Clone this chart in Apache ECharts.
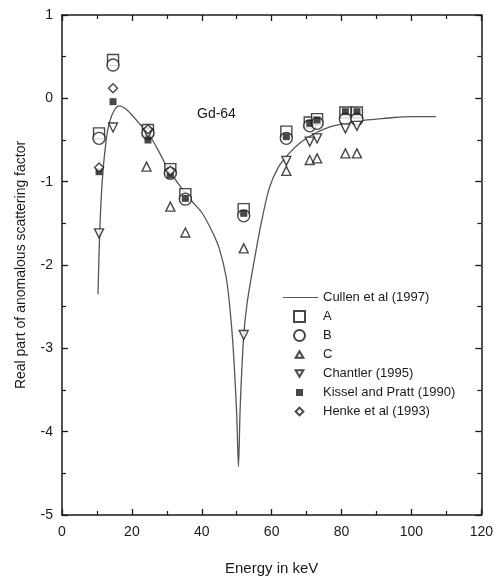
<!DOCTYPE html>
<html>
<head>
<meta charset="utf-8">
<script src="https://cdn.jsdelivr.net/npm/echarts@6/dist/echarts.min.js"></script>
<style>
  html, body { margin: 0; padding: 0; background: #fff; }
  #chart { width: 496px; height: 581px; }
</style>
</head>
<body>
<div id="chart"></div>
<script>
// Cullen et al (1997) curve
const cullenE = [10.3, 10.8, 11.5, 12.5, 13.5, 15, 16.5, 18, 20, 22.5, 25, 28, 30, 32.7, 35, 37.5, 40, 43, 45, 47, 48, 49, 50, 50.5,
                 51, 52, 53, 55, 57, 59.3, 62, 65, 68, 71.5, 75, 78.3, 85, 90, 95, 100, 107];
const cullenF = [-2.35, -1.6, -1.0, -0.55, -0.3, -0.14, -0.09, -0.12, -0.2, -0.32, -0.44, -0.66, -0.82, -0.99, -1.12, -1.25, -1.37, -1.6, -1.8, -2.15, -2.5, -3.0, -3.8, -4.42,
                 -3.7, -2.85, -2.45, -1.95, -1.5, -1.08, -0.82, -0.66, -0.54, -0.44, -0.37, -0.325, -0.27, -0.25, -0.23, -0.22, -0.22];

// measured / tabulated points
const energyAB = [10.6, 14.6, 24.6, 31, 35.3, 52, 64.2, 70.9, 73, 81.1, 84.4];
const valuesA = [-0.42, 0.46, -0.38, -0.85, -1.15, -1.33, -0.40, -0.29, -0.25, -0.17, -0.17];
const valuesB = [-0.48, 0.40, -0.42, -0.90, -1.21, -1.41, -0.48, -0.33, -0.30, -0.25, -0.25];
const valuesKissel = [-0.88, -0.04, -0.50, -0.92, -1.20, -1.38, -0.46, -0.30, -0.26, -0.16, -0.16];

const energyC = [24.2, 31, 35.3, 52, 64.2, 70.9, 73, 81.1, 84.4];
const valuesC = [-0.82, -1.30, -1.61, -1.80, -0.87, -0.74, -0.72, -0.66, -0.66];

const energyChantler = [10.6, 14.6, 24.6, 52, 64.2, 70.9, 73, 81.1, 84.4];
const valuesChantler = [-1.62, -0.35, -0.42, -2.84, -0.75, -0.52, -0.48, -0.36, -0.33];

const energyHenke = [10.6, 14.6, 24.6, 31];
const valuesHenke = [-0.83, 0.12, -0.37, -0.87];

function pairs(xs, ys) {
  return xs.map(function (x, i) { return [x, ys[i]]; });
}

const font = 'Liberation Sans, Arial, sans-serif';
const ink = '#1a1a1a';
const hollow = { color: '#fff', borderColor: ink, borderWidth: 1.4 };
const downTri = 'path://M0,0L10,0L5,8.66Z';

// small legend icons: the extra moveTo points pad the box so the shape stays small
const padBox = 'M-1.5,-1.5M8.5,8.5';
const legendIcons = {
  'C': 'path://' + padBox + 'M0,6.5L7,6.5L3.5,0.5Z',
  'Chantler (1995)': 'path://' + padBox + 'M0,0.5L7,0.5L3.5,6.5Z',
  'Kissel and Pratt (1990)': 'path://' + padBox + 'M0.3,0.3L6.7,0.3L6.7,6.7L0.3,6.7Z',
  'Henke et al (1993)': 'path://' + padBox + 'M3.5,0L7,3.5L3.5,7L0,3.5Z'
};
const legendNames = ['A', 'B', 'C', 'Chantler (1995)', 'Kissel and Pratt (1990)', 'Henke et al (1993)'];

function frameAxis(extra) {
  return Object.assign({
    type: 'value',
    axisLine: { onZero: false, lineStyle: { color: ink, width: 1.5 } },
    axisTick: { inside: true, length: 6, lineStyle: { color: ink, width: 1.3 } },
    minorTick: { show: true, splitNumber: 2, length: 4, lineStyle: { color: ink, width: 1.2 } },
    splitLine: { show: false }
  }, extra);
}

const chart = echarts.init(document.getElementById('chart'));

const option = {
  animation: false,
  backgroundColor: '#fff',
  textStyle: { fontFamily: font, color: ink },
  title: {
    text: 'Gd-64',
    left: 192, top: 102,
    textStyle: { fontSize: 14, fontWeight: 'normal', fontFamily: font, color: ink }
  },
  grid: { left: 62, right: 13, top: 15, bottom: 60 },
  legend: [
    {
      data: [{ name: 'Cullen et al (1997)', icon: 'path://M0,0L40,0L40,1L0,1Z' }],
      orient: 'vertical',
      left: 278, top: 286,
      itemWidth: 35, itemHeight: 1.3,
      textStyle: { fontSize: 13, fontFamily: font, color: ink }
    },
    {
      data: legendNames.map(function (n) {
        return legendIcons[n] ? { name: n, icon: legendIcons[n] } : n;
      }),
      orient: 'vertical',
      left: 288, top: 305,
      itemWidth: 11, itemHeight: 11,
      itemGap: 6,
      textStyle: { fontSize: 13, fontFamily: font, color: ink, lineHeight: 12, padding: [0, 0, 0, 13] }
    }
  ],
  xAxis: [
    frameAxis({
      min: 0, max: 120, interval: 20,
      name: 'Energy in keV', nameLocation: 'middle', nameGap: 46,
      nameTextStyle: { fontSize: 15, color: ink },
      axisLabel: { fontSize: 14, color: ink, margin: 10 }
    }),
    frameAxis({
      min: 0, max: 120, interval: 20, position: 'top',
      axisLabel: { show: false }
    })
  ],
  yAxis: [
    frameAxis({
      min: -5, max: 1, interval: 1,
      name: 'Real part of anomalous scattering factor', nameLocation: 'middle', nameGap: 34,
      nameTextStyle: { fontSize: 14, color: ink },
      axisLabel: { fontSize: 14, color: ink, margin: 9 }
    }),
    frameAxis({
      min: -5, max: 1, interval: 1, position: 'right',
      axisLabel: { show: false }
    })
  ],
  series: [
    {
      name: 'Cullen et al (1997)', type: 'line',
      data: pairs(cullenE, cullenF),
      smooth: 0.3, symbol: 'none', showSymbol: false,
      lineStyle: { color: '#555', width: 1.3 },
      itemStyle: { color: '#555' },
      z: 1
    },
    {
      name: 'A', type: 'scatter', data: pairs(energyAB, valuesA),
      symbol: 'rect', symbolSize: 11, itemStyle: hollow, z: 2
    },
    {
      name: 'B', type: 'scatter', data: pairs(energyAB, valuesB),
      symbol: 'circle', symbolSize: 12, itemStyle: hollow, z: 3
    },
    {
      name: 'C', type: 'scatter', data: pairs(energyC, valuesC),
      symbol: 'triangle', symbolSize: 9, itemStyle: hollow, z: 4
    },
    {
      name: 'Chantler (1995)', type: 'scatter', data: pairs(energyChantler, valuesChantler),
      symbol: downTri, symbolSize: 9, itemStyle: hollow, z: 4
    },
    {
      name: 'Kissel and Pratt (1990)', type: 'scatter', data: pairs(energyAB, valuesKissel),
      symbol: 'rect', symbolSize: 7, itemStyle: { color: ink }, z: 5
    },
    {
      name: 'Henke et al (1993)', type: 'scatter', data: pairs(energyHenke, valuesHenke),
      symbol: 'diamond', symbolSize: 9, itemStyle: hollow, z: 6
    }
  ]
};

chart.setOption(option);
</script>
</body>
</html>
